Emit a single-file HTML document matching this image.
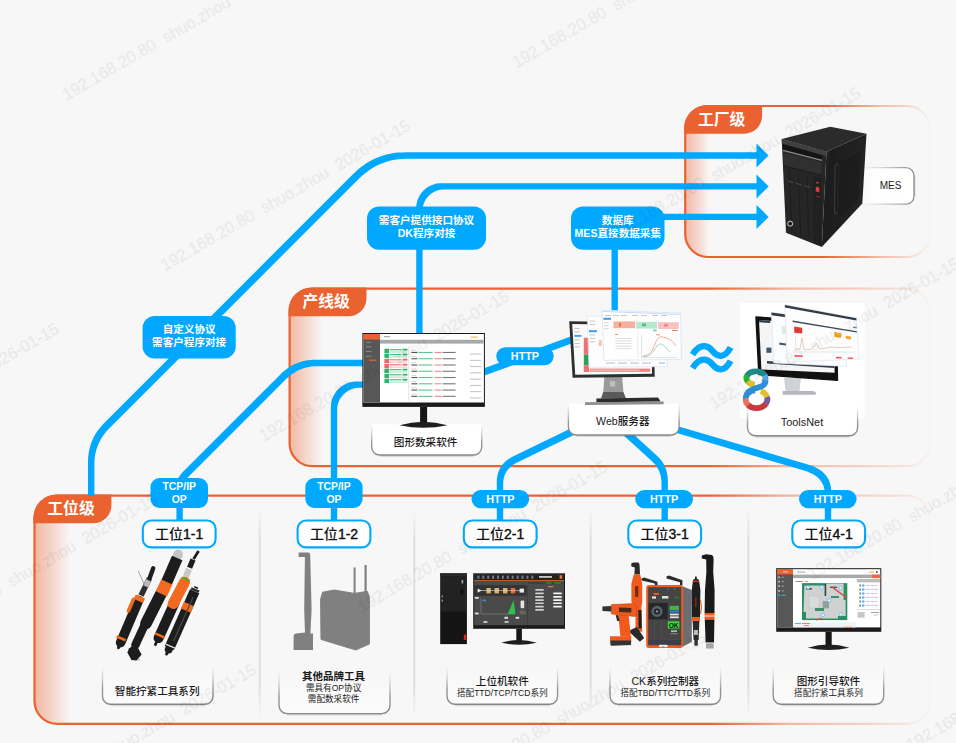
<!DOCTYPE html>
<html lang="zh-CN"><head><meta charset="utf-8"><title>系统架构</title>
<style>html,body{margin:0;padding:0;background:#f7f7f7;overflow:hidden}svg{display:block}text{font-family:"Liberation Sans", "Noto Sans CJK SC", sans-serif}</style>
</head><body>
<svg width="956" height="743" viewBox="0 0 956 743">
<defs>
<linearGradient id="sF" gradientUnits="userSpaceOnUse" x1="685.5" y1="0" x2="930" y2="0"><stop offset="0" stop-color="#eb6231"/><stop offset="0.558" stop-color="#eb6231"/><stop offset="0.787" stop-color="#eb6231" stop-opacity="0.42"/><stop offset="0.926" stop-color="#eb6231" stop-opacity="0.18"/><stop offset="1" stop-color="#eb6231" stop-opacity="0.025"/></linearGradient>
<linearGradient id="fF" gradientUnits="userSpaceOnUse" x1="685.5" y1="0" x2="709.5" y2="0"><stop offset="0" stop-color="#eb6231" stop-opacity="0.42"/><stop offset="0.35" stop-color="#eb6231" stop-opacity="0.28"/><stop offset="1" stop-color="#eb6231" stop-opacity="0"/></linearGradient>
<linearGradient id="sL" gradientUnits="userSpaceOnUse" x1="289.6" y1="0" x2="930" y2="0"><stop offset="0" stop-color="#eb6231"/><stop offset="0.653" stop-color="#eb6231"/><stop offset="0.781" stop-color="#eb6231" stop-opacity="0.42"/><stop offset="0.938" stop-color="#eb6231" stop-opacity="0.18"/><stop offset="1" stop-color="#eb6231" stop-opacity="0.025"/></linearGradient>
<linearGradient id="fL" gradientUnits="userSpaceOnUse" x1="289.6" y1="0" x2="322.6" y2="0"><stop offset="0" stop-color="#eb6231" stop-opacity="0.42"/><stop offset="0.35" stop-color="#eb6231" stop-opacity="0.28"/><stop offset="1" stop-color="#eb6231" stop-opacity="0"/></linearGradient>
<linearGradient id="sW" gradientUnits="userSpaceOnUse" x1="34.5" y1="0" x2="930" y2="0"><stop offset="0" stop-color="#eb6231"/><stop offset="0.752" stop-color="#eb6231"/><stop offset="0.844" stop-color="#eb6231" stop-opacity="0.42"/><stop offset="0.955" stop-color="#eb6231" stop-opacity="0.18"/><stop offset="1" stop-color="#eb6231" stop-opacity="0.025"/></linearGradient>
<linearGradient id="fW" gradientUnits="userSpaceOnUse" x1="34.5" y1="0" x2="70.5" y2="0"><stop offset="0" stop-color="#eb6231" stop-opacity="0.42"/><stop offset="0.35" stop-color="#eb6231" stop-opacity="0.28"/><stop offset="1" stop-color="#eb6231" stop-opacity="0"/></linearGradient>
<linearGradient id="lbF" x1="0" y1="0" x2="0" y2="1"><stop offset="0" stop-color="#fff" stop-opacity="0"/><stop offset="0.25" stop-color="#fff" stop-opacity="0.9"/><stop offset="1" stop-color="#fff"/></linearGradient>
<linearGradient id="lbG" x1="0" y1="0" x2="0" y2="1"><stop offset="0" stop-color="#fff" stop-opacity="0"/><stop offset="0.5" stop-color="#fff" stop-opacity="0.3"/><stop offset="1" stop-color="#fff" stop-opacity="0.55"/></linearGradient>
<linearGradient id="lbS" x1="0" y1="0" x2="0" y2="1"><stop offset="0" stop-color="#8c8c8c" stop-opacity="0"/><stop offset="0.3" stop-color="#8c8c8c" stop-opacity="0.35"/><stop offset="0.6" stop-color="#8c8c8c" stop-opacity="0.9"/><stop offset="1" stop-color="#8a8a8a"/></linearGradient>
<linearGradient id="lbF2" x1="0" y1="0" x2="1" y2="0"><stop offset="0" stop-color="#fff" stop-opacity="0"/><stop offset="0.3" stop-color="#fff" stop-opacity="0.9"/><stop offset="1" stop-color="#fff"/></linearGradient>
<linearGradient id="lbS2" x1="0" y1="0" x2="1" y2="0"><stop offset="0" stop-color="#8c8c8c" stop-opacity="0"/><stop offset="0.4" stop-color="#8c8c8c" stop-opacity="0.3"/><stop offset="1" stop-color="#8c8c8c"/></linearGradient>
<linearGradient id="dv" x1="0" y1="0" x2="0" y2="1"><stop offset="0" stop-color="#c2c6c9" stop-opacity="0"/><stop offset="0.15" stop-color="#c2c6c9" stop-opacity="0.5"/><stop offset="0.85" stop-color="#c2c6c9" stop-opacity="0.5"/><stop offset="1" stop-color="#c2c6c9" stop-opacity="0"/></linearGradient>
<linearGradient id="pcS" x1="0" y1="0" x2="1" y2="0.3"><stop offset="0" stop-color="#2e2e2e"/><stop offset="0.25" stop-color="#1c1c1c"/><stop offset="1" stop-color="#242424"/></linearGradient>
</defs>
<rect width="956" height="743" fill="#f7f7f7"/>
<path d="M708.2,106 H907 A23,23 0 0 1 930,129 V234 A23,23 0 0 1 907,257 H708.2 A23,23 0 0 1 685.2,234 V129 A23,23 0 0 1 708.2,106 Z" fill="url(#fF)" stroke="url(#sF)" stroke-width="2.2"/>
<path d="M684.1,127.9 A23,23 0 0 1 707.1,104.9 H762.1 V115.7 A18,18 0 0 1 744.1,133.7 H684.1 Z" fill="#eb6231"/>
<text x="721.7" y="124.8" font-size="15.8" font-weight="700" fill="#fff" text-anchor="middle">工厂级</text>
<path d="M312.6,288.6 H907 A23,23 0 0 1 930,311.6 V443.2 A23,23 0 0 1 907,466.2 H312.6 A23,23 0 0 1 289.6,443.2 V311.6 A23,23 0 0 1 312.6,288.6 Z" fill="url(#fL)" stroke="url(#sL)" stroke-width="2.2"/>
<path d="M288.5,310.5 A23,23 0 0 1 311.5,287.5 H366.5 V298.3 A18,18 0 0 1 348.5,316.3 H288.5 Z" fill="#eb6231"/>
<text x="326.1" y="307.4" font-size="15.8" font-weight="700" fill="#fff" text-anchor="middle">产线级</text>
<path d="M57.5,495.6 H907 A23,23 0 0 1 930,518.6 V700.9 A23,23 0 0 1 907,723.9 H57.5 A23,23 0 0 1 34.5,700.9 V518.6 A23,23 0 0 1 57.5,495.6 Z" fill="url(#fW)" stroke="url(#sW)" stroke-width="2.2"/>
<path d="M33.4,517.5 A23,23 0 0 1 56.4,494.5 H111.4 V505.3 A18,18 0 0 1 93.4,523.3 H33.4 Z" fill="#eb6231"/>
<text x="71" y="514.4" font-size="15.8" font-weight="700" fill="#fff" text-anchor="middle">工位级</text>
<rect x="258.7" y="508" width="2" height="210" fill="url(#dv)"/>
<rect x="413.3" y="508" width="2" height="210" fill="url(#dv)"/>
<rect x="589.7" y="508" width="2" height="210" fill="url(#dv)"/>
<rect x="747.4" y="508" width="2" height="210" fill="url(#dv)"/>
<path d="M94.4,496.0 L94.4,463.2 L94.5,460.3 L94.8,457.4 L95.2,454.6 L95.8,451.9 L96.5,449.2 L97.4,446.7 L98.4,444.2 L99.5,441.7 L100.8,439.3 L102.2,437.0 L103.8,434.7 L105.5,432.5 L107.4,430.3 L109.4,428.2 L358.6,179.1 L361.5,176.3 L364.5,173.7 L367.5,171.4 L370.6,169.2 L373.8,167.3 L377.0,165.6 L380.4,164.0 L383.8,162.7 L387.3,161.5 L390.8,160.5 L394.5,159.8 L398.2,159.2 L402.1,158.9 L406.0,158.7 L760.0,158.7 L760.0,152.3 L406.0,152.3 L401.7,152.4 L397.5,152.6 L393.4,153.1 L389.3,153.9 L385.4,154.8 L381.5,156.0 L377.6,157.4 L373.9,159.1 L370.2,161.0 L366.7,163.1 L363.2,165.4 L359.8,168.0 L356.6,170.8 L353.4,173.7 L104.2,423.0 L101.9,425.4 L99.8,427.9 L97.9,430.4 L96.1,433.1 L94.5,435.8 L93.1,438.6 L91.8,441.4 L90.7,444.4 L89.9,447.4 L89.1,450.4 L88.6,453.5 L88.2,456.7 L88.0,459.9 L88.0,463.2 L88.0,496.0 Z" fill="#00a8ff"/>
<path d="M422.6,334.0 L422.6,209.5 L422.8,207.2 L423.3,205.0 L424.0,203.0 L424.9,201.0 L426.0,199.1 L427.3,197.4 L428.8,195.8 L430.4,194.3 L432.1,193.0 L434.0,191.9 L436.0,191.0 L438.0,190.3 L440.2,189.8 L442.5,189.6 L760.0,189.6 L760.0,183.2 L442.3,183.2 L439.5,183.3 L436.5,183.6 L433.6,184.4 L430.9,185.4 L428.2,186.8 L425.8,188.5 L423.5,190.5 L421.5,192.8 L419.8,195.2 L418.4,197.9 L417.4,200.6 L416.6,203.5 L416.3,206.5 L416.2,209.3 L416.2,334.0 Z" fill="#00a8ff"/>
<path d="M660,216.9 H760" fill="none" stroke="#00a8ff" stroke-width="6.4" stroke-linejoin="round"/>
<path d="M614.7,248 V311" fill="none" stroke="#00a8ff" stroke-width="6.4" stroke-linejoin="round"/>
<path d="M182.8,496.0 L182.8,488.0 L182.9,487.1 L183.0,486.2 L183.2,485.4 L183.4,484.6 L183.7,483.8 L184.0,483.0 L184.4,482.2 L184.8,481.5 L185.2,480.7 L185.7,480.0 L186.3,479.2 L186.9,478.5 L187.5,477.8 L188.2,477.0 L285.6,379.6 L287.5,377.8 L289.4,376.1 L291.4,374.6 L293.4,373.2 L295.4,371.9 L297.5,370.8 L299.6,369.8 L301.8,368.9 L304.0,368.1 L306.3,367.5 L308.6,367.0 L311.0,366.6 L313.5,366.3 L316.0,366.2 L364.0,366.2 L364.0,359.8 L316.0,359.8 L313.1,359.8 L310.3,360.0 L307.5,360.3 L304.8,360.8 L302.1,361.5 L299.5,362.3 L296.9,363.2 L294.3,364.3 L291.8,365.6 L289.4,367.1 L287.1,368.7 L284.8,370.4 L282.5,372.3 L280.4,374.4 L183.0,471.8 L182.0,472.8 L181.2,473.8 L180.4,474.9 L179.6,475.9 L178.9,477.0 L178.4,478.2 L177.8,479.4 L177.4,480.6 L177.0,481.8 L176.8,483.0 L176.6,484.2 L176.4,485.5 L176.4,486.7 L176.4,488.0 L176.4,496.0 Z" fill="#00a8ff"/>
<path d="M337.2,496.0 L337.2,408.7 L337.4,406.3 L337.9,404.0 L338.7,401.8 L339.6,399.7 L340.8,397.8 L342.1,395.9 L343.6,394.2 L345.3,392.7 L347.2,391.4 L349.1,390.2 L351.2,389.3 L353.4,388.5 L355.7,388.0 L358.1,387.8 L364.0,387.8 L364.0,381.4 L357.9,381.4 L354.9,381.5 L351.9,381.9 L348.9,382.6 L346.0,383.7 L343.3,385.2 L340.7,387.0 L338.4,389.0 L336.4,391.3 L334.6,393.9 L333.1,396.6 L332.0,399.5 L331.3,402.5 L330.9,405.5 L330.8,408.5 L330.8,496.0 Z" fill="#00a8ff"/>
<path d="M485.2,375.3 L572.2,343.3 L569.8,336.7 L482.8,368.7 Z" fill="#00a8ff"/>
<path d="M580.4,423.8 L513.4,456.3 L511.1,457.5 L509.0,458.8 L507.0,460.2 L505.1,461.8 L503.5,463.4 L502.0,465.2 L500.7,467.2 L499.6,469.2 L498.6,471.3 L497.9,473.5 L497.4,475.8 L497.0,478.1 L496.8,480.5 L496.8,482.9 L496.8,522.0 L503.2,522.0 L503.2,483.1 L503.3,481.0 L503.6,479.1 L504.0,477.3 L504.5,475.6 L505.2,474.0 L506.0,472.5 L506.8,471.1 L507.8,469.7 L508.9,468.4 L510.2,467.2 L511.5,466.0 L513.1,464.8 L514.8,463.8 L516.6,462.7 L583.6,430.2 Z" fill="#00a8ff"/>
<path d="M617.5,429.7 L652.5,461.7 L653.7,462.9 L654.8,464.1 L655.8,465.3 L656.7,466.6 L657.5,468.0 L658.3,469.4 L659.0,470.8 L659.6,472.4 L660.1,473.9 L660.6,475.6 L660.9,477.3 L661.2,479.2 L661.4,481.0 L661.5,483.0 L661.5,522.0 L667.9,522.0 L667.9,483.0 L667.9,480.7 L667.8,478.5 L667.6,476.3 L667.2,474.2 L666.8,472.2 L666.2,470.1 L665.6,468.2 L664.8,466.3 L663.9,464.4 L662.8,462.6 L661.7,460.9 L660.4,459.3 L659.0,457.8 L657.5,456.3 L622.5,424.3 Z" fill="#00a8ff"/>
<path d="M669.0,430.8 L805.0,470.8 L807.8,471.8 L810.4,472.9 L812.7,474.1 L814.8,475.3 L816.6,476.6 L818.3,478.1 L819.7,479.5 L820.9,481.1 L822.0,482.7 L822.9,484.5 L823.7,486.4 L824.2,488.4 L824.6,490.6 L824.8,493.1 L824.8,522.0 L831.2,522.0 L831.2,492.9 L831.2,490.1 L830.9,487.2 L830.3,484.5 L829.5,481.8 L828.4,479.3 L827.0,476.9 L825.3,474.7 L823.4,472.7 L821.2,470.8 L818.8,469.2 L816.1,467.7 L813.3,466.3 L810.2,465.2 L807.0,464.2 L671.0,424.2 Z" fill="#00a8ff"/>
<path d="M179.6,500 V522" fill="none" stroke="#00a8ff" stroke-width="6.4" stroke-linejoin="round"/>
<path d="M334,500 V522" fill="none" stroke="#00a8ff" stroke-width="6.4" stroke-linejoin="round"/>
<path d="M756.5,143.5 L768.6,155.5 L756.5,167.5 Z" fill="#00a8ff"/>
<path d="M756.5,174.4 L768.6,186.4 L756.5,198.4 Z" fill="#00a8ff"/>
<path d="M756.5,204.9 L768.6,216.9 L756.5,228.9 Z" fill="#00a8ff"/>
<path d="M692.6,354.6 Q698,345.8 704.5,346.2 Q709,346.6 712.5,351 Q716.5,356 721,355.8 Q726.5,355.4 730.6,347.4" fill="none" stroke="#00a8ff" stroke-width="6.3"/>
<path d="M692.6,368.1 Q698,359.3 704.5,359.7 Q709,360.1 712.5,364.5 Q716.5,369.5 721,369.3 Q726.5,368.9 730.6,360.9" fill="none" stroke="#00a8ff" stroke-width="6.3"/>
<rect x="142.6" y="316" width="93.1" height="42.6" rx="12" fill="#00a8ff"/>
<text x="189.15" y="333.466" font-size="10.6" font-weight="700" fill="#fff" text-anchor="middle">自定义协议</text>
<text x="189.15" y="346.366" font-size="10.6" font-weight="700" fill="#fff" text-anchor="middle">需客户程序对接</text>
<rect x="367" y="206.6" width="119" height="43.2" rx="12" fill="#00a8ff"/>
<text x="426.5" y="224.366" font-size="10.6" font-weight="700" fill="#fff" text-anchor="middle">需客户提供接口协议</text>
<text x="426.5" y="237.266" font-size="10.6" font-weight="700" fill="#fff" text-anchor="middle">DK程序对接</text>
<rect x="571" y="206.6" width="93.5" height="43.2" rx="12" fill="#00a8ff"/>
<text x="617.75" y="224.366" font-size="10.6" font-weight="700" fill="#fff" text-anchor="middle">数据库</text>
<text x="617.75" y="237.266" font-size="10.6" font-weight="700" fill="#fff" text-anchor="middle">MES直接数据采集</text>
<rect x="150.5" y="478" width="57.5" height="30" rx="9" fill="#00a8ff"/>
<text x="179.25" y="490.244" font-size="10.4" font-weight="700" fill="#fff" text-anchor="middle">TCP/IP</text>
<text x="179.25" y="503.244" font-size="10.4" font-weight="700" fill="#fff" text-anchor="middle">OP</text>
<rect x="305.3" y="478" width="57.3" height="30" rx="9" fill="#00a8ff"/>
<text x="333.95" y="490.244" font-size="10.4" font-weight="700" fill="#fff" text-anchor="middle">TCP/IP</text>
<text x="333.95" y="503.244" font-size="10.4" font-weight="700" fill="#fff" text-anchor="middle">OP</text>
<rect x="496.3" y="347.2" width="57.3" height="18.1" rx="9.1" fill="#00a8ff"/>
<text x="524.95" y="360.138" font-size="10.8" font-weight="700" fill="#fff" text-anchor="middle">HTTP</text>
<rect x="471.5" y="490" width="57.7" height="18.2" rx="9.1" fill="#00a8ff"/>
<text x="500.35" y="502.988" font-size="10.8" font-weight="700" fill="#fff" text-anchor="middle">HTTP</text>
<rect x="635.2" y="490" width="57.8" height="18.2" rx="9.1" fill="#00a8ff"/>
<text x="664.1" y="502.988" font-size="10.8" font-weight="700" fill="#fff" text-anchor="middle">HTTP</text>
<rect x="799" y="490" width="57.6" height="18.2" rx="9.1" fill="#00a8ff"/>
<text x="827.8" y="502.988" font-size="10.8" font-weight="700" fill="#fff" text-anchor="middle">HTTP</text>
<rect x="142.8" y="520.5" width="72.8" height="26.9" rx="8.5" fill="#fff" stroke="#00a8ff" stroke-width="2.1"/>
<text x="179.2" y="538.7" font-size="14" font-weight="500" fill="#111" text-anchor="middle">工位<tspan font-weight="400" stroke="#111" stroke-width="0.4">1-1</tspan></text>
<rect x="297.6" y="520.5" width="72.8" height="26.9" rx="8.5" fill="#fff" stroke="#00a8ff" stroke-width="2.1"/>
<text x="334" y="538.7" font-size="14" font-weight="500" fill="#111" text-anchor="middle">工位<tspan font-weight="400" stroke="#111" stroke-width="0.4">1-2</tspan></text>
<rect x="463.8" y="520.5" width="72.8" height="26.9" rx="8.5" fill="#fff" stroke="#00a8ff" stroke-width="2.1"/>
<text x="500.2" y="538.7" font-size="14" font-weight="500" fill="#111" text-anchor="middle">工位<tspan font-weight="400" stroke="#111" stroke-width="0.4">2-1</tspan></text>
<rect x="628.3" y="520.5" width="72.8" height="26.9" rx="8.5" fill="#fff" stroke="#00a8ff" stroke-width="2.1"/>
<text x="664.7" y="538.7" font-size="14" font-weight="500" fill="#111" text-anchor="middle">工位<tspan font-weight="400" stroke="#111" stroke-width="0.4">3-1</tspan></text>
<rect x="792.3" y="520.5" width="72.8" height="26.9" rx="8.5" fill="#fff" stroke="#00a8ff" stroke-width="2.1"/>
<text x="828.7" y="538.7" font-size="14" font-weight="500" fill="#111" text-anchor="middle">工位<tspan font-weight="400" stroke="#111" stroke-width="0.4">4-1</tspan></text>
<path d="M102.5,666.3 V696.3 A8,8 0 0 0 110.5,704.3 H205 A8,8 0 0 0 213,696.3 V666.3" fill="url(#lbG)" stroke="url(#lbS)" stroke-width="1.4"/>
<path d="M110.5,705.5 H205" stroke="#000" stroke-opacity="0.12" stroke-width="1.6" fill="none"/>
<text x="157.2" y="694.5" font-size="10.6" font-weight="500" fill="#1a1a1a" text-anchor="middle">智能拧紧工具系列</text>
<path d="M279,671.6 V705.6 A8,8 0 0 0 287,713.6 H382 A8,8 0 0 0 390,705.6 V671.6" fill="url(#lbG)" stroke="url(#lbS)" stroke-width="1.4"/>
<path d="M287,714.8 H382" stroke="#000" stroke-opacity="0.12" stroke-width="1.6" fill="none"/>
<text x="333.6" y="680.2" font-size="10.5" font-weight="700" fill="#1a1a1a" text-anchor="middle">其他品牌工具</text>
<text x="333.6" y="690.9" font-size="8.6" font-weight="400" fill="#1a1a1a" text-anchor="middle">需具有OP协议</text>
<text x="333.6" y="701.6" font-size="8.6" font-weight="400" fill="#1a1a1a" text-anchor="middle">需配数采软件</text>
<path d="M447,666.3 V696.3 A8,8 0 0 0 455,704.3 H549.6 A8,8 0 0 0 557.6,696.3 V666.3" fill="url(#lbG)" stroke="url(#lbS)" stroke-width="1.4"/>
<path d="M455,705.5 H549.6" stroke="#000" stroke-opacity="0.12" stroke-width="1.6" fill="none"/>
<text x="502.3" y="684.8" font-size="10.6" font-weight="500" fill="#1a1a1a" text-anchor="middle">上位机软件</text>
<text x="502.3" y="695.7" font-size="8.6" font-weight="400" fill="#1a1a1a" text-anchor="middle">搭配TTD/TCP/TCD系列</text>
<path d="M610,666.3 V696.3 A8,8 0 0 0 618,704.3 H712.6 A8,8 0 0 0 720.6,696.3 V666.3" fill="url(#lbG)" stroke="url(#lbS)" stroke-width="1.4"/>
<path d="M618,705.5 H712.6" stroke="#000" stroke-opacity="0.12" stroke-width="1.6" fill="none"/>
<text x="665.3" y="684.8" font-size="10.6" font-weight="500" fill="#1a1a1a" text-anchor="middle">CK系列控制器</text>
<text x="665.3" y="695.7" font-size="8.6" font-weight="400" fill="#1a1a1a" text-anchor="middle">搭配TBD/TTC/TTD系列</text>
<path d="M773.2,666.3 V696.3 A8,8 0 0 0 781.2,704.3 H875.7 A8,8 0 0 0 883.7,696.3 V666.3" fill="url(#lbG)" stroke="url(#lbS)" stroke-width="1.4"/>
<path d="M781.2,705.5 H875.7" stroke="#000" stroke-opacity="0.12" stroke-width="1.6" fill="none"/>
<text x="828.45" y="684.8" font-size="10.6" font-weight="500" fill="#1a1a1a" text-anchor="middle">图形引导软件</text>
<text x="828.45" y="695.7" font-size="8.6" font-weight="400" fill="#1a1a1a" text-anchor="middle">搭配拧紧工具系列</text>
<path d="M858,167.6 H906 A8,8 0 0 1 914,175.6 V196.2 A8,8 0 0 1 906,204.2 H858" fill="url(#lbF2)" stroke="url(#lbS2)" stroke-width="1.3"/>
<path d="M914.9,176 V196" stroke="#000" stroke-opacity="0.1" stroke-width="1.4" fill="none"/>
<text x="890.6" y="189.4" font-size="10" fill="#1a1a1a" text-anchor="middle">MES</text>
<g>
<path d="M781.7,139.1 L830.3,126.7 L866.5,133.8 L826.5,151.8 Z" fill="#2b2b2b"/>
<path d="M826.5,151.8 L866.5,133.8 L862.3,203.6 L821.8,246.9 Z" fill="url(#pcS)"/>
<path d="M781.7,139.1 L826.5,151.8 L821.8,246.9 L786,232.8 Z" fill="#262626"/>
<path d="M781.7,139.1 L826.5,151.8 L826.2,156 L781.9,143.4 Z" fill="#404040"/>
<path d="M782.6,144 L822.4,155.4 L822,160.6 L783,150.6 Z" fill="#141414"/>
<path d="M783,150.4 L822,160.4" stroke="#8c8c8c" stroke-width="1.3" fill="none"/>
<path d="M783.2,152.6 L821.8,162.6 L821.4,174.6 L783.8,165 Z" fill="#303030"/>
<path d="M783.8,166 L821.3,175.6" stroke="#1a1a1a" stroke-width="0.8" fill="none"/>
<path d="M789,171.5 L791.8,230.32" stroke="#1b1b1b" stroke-width="0.8" fill="none"/>
<path d="M798.4,173.85 L800.6,233.84" stroke="#1b1b1b" stroke-width="0.8" fill="none"/>
<path d="M807,176 L808.6,237.04" stroke="#1b1b1b" stroke-width="0.8" fill="none"/>
<path d="M813,176 L821.4,178 L821.6,246 L813.6,243.2 Z" fill="#202020"/>
<path d="M834.6,166 Q837,160 838.6,166 L837,212 Q834.6,218 834,212 Z" fill="#3a3a3a"/>
<path d="M835.8,166 Q837.4,163 838.2,167 L836.8,211 Q835.6,214 835.2,211 Z" fill="#191919"/>
<path d="M840,162 L861,151.6 L858,199 L838.6,219 Z" fill="#1a1a1a" opacity="0.55"/>
<path d="M816,181.8 L818.8,182.6 L818.6,183.8 L815.8,183 Z" fill="#e23a3a"/>
<path d="M815.8,186.8 L819.4,187.6 L819.2,192.2 L815.8,191.4 Z" fill="#e23a3a"/>
<path d="M816.4,195.8 L820,196.8 L820,197.8 L816.4,196.8 Z" fill="#c02a2a"/>
<circle cx="790.2" cy="223.7" r="2.5" fill="#1a1a1a" stroke="#e0e0e0" stroke-width="0.9"/>
<path d="M787.6,181 l5.4,1.5" stroke="#555" stroke-width="0.9"/>
<path d="M796.2,183.4 l5.4,1.5" stroke="#555" stroke-width="0.9"/>
<path d="M804.8,185.8 l5.4,1.5" stroke="#555" stroke-width="0.9"/>
</g>
<path d="M371.7,424.3 V447 A8,8 0 0 0 379.7,455 H473.7 A8,8 0 0 0 481.7,447 V424.3" fill="#fff" stroke="url(#lbS)" stroke-width="1.4"/>
<path d="M379.7,456.2 H473.7" stroke="#000" stroke-opacity="0.12" stroke-width="1.6" fill="none"/>
<text x="425.6" y="446.3" font-size="10.6" font-weight="500" fill="#1a1a1a" text-anchor="middle">图形数采软件</text>
<rect x="362.4" y="333" width="122.5" height="73.9" fill="#1b1b1b"/>
<rect x="363.4" y="334" width="120.5" height="68.5" fill="#fff"/>
<rect x="420.1" y="406.9" width="7" height="16.1" fill="#161616"/>
<path d="M399.4,425.312 Q423.45,418.259 447.5,425.312 Q423.45,430.419 399.4,425.312 Z" fill="#1e1e1e"/>
<rect x="363.4" y="334" width="16.6" height="68.4" fill="#575757"/>
<rect x="363.4" y="334" width="16.6" height="5.6" fill="#eb6231"/>
<rect x="380" y="339.8" width="103.6" height="3.8" fill="#a9a9a9"/>
<rect x="408.4" y="346" width="0.8" height="55" fill="#ddd"/>
<rect x="369" y="359.6" width="7" height="1.2" fill="#eb6231"/>
<rect x="366" y="341.8" width="5.4" height="1" fill="#8a8a8a"/>
<rect x="366" y="346.4" width="5.4" height="1" fill="#8a8a8a"/>
<rect x="366" y="351" width="5.4" height="1" fill="#8a8a8a"/>
<rect x="366" y="355.8" width="5.4" height="1" fill="#8a8a8a"/>
<rect x="384.4" y="348.7" width="4.6" height="4.3" fill="#2fb36a"/>
<rect x="389.6" y="349" width="12" height="1.3" fill="#2fb36a" opacity="0.8"/>
<rect x="389.6" y="351.5" width="17.6" height="1" fill="#2fb36a" opacity="0.45"/>
<rect x="402.6" y="348.7" width="4.8" height="1.8" fill="#2fb36a"/>
<rect x="384.4" y="353.6" width="4.6" height="4.3" fill="#2fb36a"/>
<rect x="389.6" y="353.9" width="12" height="1.3" fill="#2fb36a" opacity="0.8"/>
<rect x="389.6" y="356.4" width="17.6" height="1" fill="#2fb36a" opacity="0.45"/>
<rect x="402.6" y="353.6" width="4.8" height="1.8" fill="#2fb36a"/>
<rect x="384.4" y="358.8" width="4.6" height="4.3" fill="#ef6b6b"/>
<rect x="389.6" y="359.1" width="12" height="1.3" fill="#ef6b6b" opacity="0.8"/>
<rect x="389.6" y="361.6" width="17.6" height="1" fill="#ef6b6b" opacity="0.45"/>
<rect x="402.6" y="358.8" width="4.8" height="1.8" fill="#ef6b6b"/>
<rect x="384.4" y="363.8" width="4.6" height="4.3" fill="#ef6b6b"/>
<rect x="389.6" y="364.1" width="12" height="1.3" fill="#ef6b6b" opacity="0.8"/>
<rect x="389.6" y="366.6" width="17.6" height="1" fill="#ef6b6b" opacity="0.45"/>
<rect x="402.6" y="363.8" width="4.8" height="1.8" fill="#ef6b6b"/>
<rect x="384.4" y="368.7" width="4.6" height="4.3" fill="#2fb36a"/>
<rect x="389.6" y="369" width="12" height="1.3" fill="#2fb36a" opacity="0.8"/>
<rect x="389.6" y="371.5" width="17.6" height="1" fill="#2fb36a" opacity="0.45"/>
<rect x="402.6" y="368.7" width="4.8" height="1.8" fill="#2fb36a"/>
<rect x="384.4" y="373.8" width="4.6" height="4.3" fill="#2fb36a"/>
<rect x="389.6" y="374.1" width="12" height="1.3" fill="#2fb36a" opacity="0.8"/>
<rect x="389.6" y="376.6" width="17.6" height="1" fill="#2fb36a" opacity="0.45"/>
<rect x="402.6" y="373.8" width="4.8" height="1.8" fill="#2fb36a"/>
<rect x="384.4" y="378.8" width="4.6" height="4.3" fill="#2fb36a"/>
<rect x="389.6" y="379.1" width="12" height="1.3" fill="#2fb36a" opacity="0.8"/>
<rect x="389.6" y="381.6" width="17.6" height="1" fill="#2fb36a" opacity="0.45"/>
<rect x="402.6" y="378.8" width="4.8" height="1.8" fill="#2fb36a"/>
<rect x="411.4" y="351.9" width="6" height="1.1" fill="#555"/>
<rect x="418.6" y="351.9" width="14" height="1.1" fill="#5bc48e"/>
<rect x="434.6" y="351.9" width="7" height="1.1" fill="#f08a8a"/>
<rect x="442.6" y="351.9" width="13" height="1.1" fill="#777"/>
<rect x="470" y="353.6" width="11" height="0.9" fill="#bbb"/>
<rect x="411.4" y="349.8" width="5" height="0.8" fill="#ccc"/>
<rect x="411.4" y="358.17" width="6" height="1.1" fill="#555"/>
<rect x="418.6" y="358.17" width="14" height="1.1" fill="#5bc48e"/>
<rect x="434.6" y="358.17" width="7" height="1.1" fill="#f08a8a"/>
<rect x="442.6" y="358.17" width="13" height="1.1" fill="#777"/>
<rect x="470" y="359.87" width="11" height="0.9" fill="#bbb"/>
<rect x="411.4" y="356.07" width="5" height="0.8" fill="#ccc"/>
<rect x="411.4" y="364.44" width="6" height="1.1" fill="#555"/>
<rect x="418.6" y="364.44" width="14" height="1.1" fill="#5bc48e"/>
<rect x="434.6" y="364.44" width="7" height="1.1" fill="#f08a8a"/>
<rect x="442.6" y="364.44" width="13" height="1.1" fill="#777"/>
<rect x="470" y="366.14" width="11" height="0.9" fill="#bbb"/>
<rect x="411.4" y="362.34" width="5" height="0.8" fill="#ccc"/>
<rect x="411.4" y="370.71" width="6" height="1.1" fill="#555"/>
<rect x="418.6" y="370.71" width="14" height="1.1" fill="#5bc48e"/>
<rect x="434.6" y="370.71" width="7" height="1.1" fill="#f08a8a"/>
<rect x="442.6" y="370.71" width="13" height="1.1" fill="#777"/>
<rect x="470" y="372.41" width="11" height="0.9" fill="#bbb"/>
<rect x="411.4" y="368.61" width="5" height="0.8" fill="#ccc"/>
<rect x="411.4" y="376.98" width="6" height="1.1" fill="#555"/>
<rect x="418.6" y="376.98" width="14" height="1.1" fill="#5bc48e"/>
<rect x="434.6" y="376.98" width="7" height="1.1" fill="#f08a8a"/>
<rect x="442.6" y="376.98" width="13" height="1.1" fill="#777"/>
<rect x="470" y="378.68" width="11" height="0.9" fill="#bbb"/>
<rect x="411.4" y="374.88" width="5" height="0.8" fill="#ccc"/>
<rect x="411.4" y="383.25" width="6" height="1.1" fill="#555"/>
<rect x="418.6" y="383.25" width="14" height="1.1" fill="#5bc48e"/>
<rect x="434.6" y="383.25" width="7" height="1.1" fill="#f08a8a"/>
<rect x="442.6" y="383.25" width="13" height="1.1" fill="#777"/>
<rect x="470" y="384.95" width="11" height="0.9" fill="#bbb"/>
<rect x="411.4" y="381.15" width="5" height="0.8" fill="#ccc"/>
<rect x="411.4" y="389.52" width="6" height="1.1" fill="#555"/>
<rect x="418.6" y="389.52" width="14" height="1.1" fill="#5bc48e"/>
<rect x="434.6" y="389.52" width="7" height="1.1" fill="#f08a8a"/>
<rect x="442.6" y="389.52" width="13" height="1.1" fill="#777"/>
<rect x="470" y="391.22" width="11" height="0.9" fill="#bbb"/>
<rect x="411.4" y="387.42" width="5" height="0.8" fill="#ccc"/>
<rect x="411.4" y="395.79" width="6" height="1.1" fill="#555"/>
<rect x="418.6" y="395.79" width="14" height="1.1" fill="#5bc48e"/>
<rect x="434.6" y="395.79" width="7" height="1.1" fill="#f08a8a"/>
<rect x="442.6" y="395.79" width="13" height="1.1" fill="#777"/>
<rect x="470" y="397.49" width="11" height="0.9" fill="#bbb"/>
<rect x="411.4" y="393.69" width="5" height="0.8" fill="#ccc"/>
<rect x="470.6" y="336.6" width="7" height="1" fill="#f0b429"/>
<rect x="384" y="336.2" width="6" height="1" fill="#999"/>
<path d="M568.4,403.4 V427 A8,8 0 0 0 576.4,435 H671.1 A8,8 0 0 0 679.1,427 V403.4" fill="#fff" stroke="url(#lbS)" stroke-width="1.4"/>
<path d="M576.4,436.2 H671.1" stroke="#000" stroke-opacity="0.12" stroke-width="1.6" fill="none"/>
<text x="622.8" y="424.8" font-size="10.6" font-weight="500" fill="#1a1a1a" text-anchor="middle">Web服务器</text>
<path d="M604.4,377 H622.2 L623.4,392 H603.2 Z" fill="#9a9a9a"/>
<path d="M603.2,392 H623.4 L626,398.6 H601 Z" fill="#5a5a5a"/>
<rect x="610" y="381" width="5.2" height="5.6" fill="#bdbdbd"/>
<path d="M596.4,398.4 L658,397.6 L660.6,401.6 L596.4,402.2 Z" fill="#2c2c2c"/>
<path d="M585,402.2 L663.6,401.4 L663.6,404.2 L585,405 Z" fill="#8e8e8e"/>
<path d="M569.2,321.2 L654,322.6 L654.7,376.8 L572.6,377.8 Z" fill="#2f2f2f"/>
<path d="M572.2,324 L651.4,325.2 L652,373.8 L575.2,374.8 Z" fill="#fafafa"/>
<rect x="574.4" y="335" width="7" height="1.8" fill="#3b9cf5"/>
<rect x="574.6" y="328" width="5" height="0.9" fill="#bbb"/>
<rect x="574.6" y="331.4" width="5" height="0.9" fill="#bbb"/>
<rect x="574.6" y="339.5" width="5" height="0.9" fill="#bbb"/>
<rect x="574.6" y="343" width="5" height="0.9" fill="#bbb"/>
<rect x="574.6" y="346.4" width="5" height="0.9" fill="#bbb"/>
<rect x="583.8" y="337.8" width="5.2" height="17" fill="#ee7272"/>
<rect x="583.8" y="354.8" width="5.2" height="10.4" fill="#27a35a"/>
<rect x="583.8" y="365.2" width="5.2" height="6.8" fill="#ee7272"/>
<rect x="589.6" y="368.6" width="60.6" height="3.2" fill="#f37f7f"/>
<rect x="589.6" y="369.6" width="50" height="1" fill="#fff" opacity="0.6"/>
<path d="M587.4,316 L667.3,318.4 L667.3,366.6 L589,367.4 Z" fill="#fdfdfd" stroke="#dde6f1" stroke-width="0.7"/>
<rect x="589" y="330.2" width="8" height="2" fill="#3b9cf5"/>
<rect x="589.6" y="320.6" width="5.6" height="0.9" fill="#c4c4c4"/>
<rect x="589.6" y="324" width="5.6" height="0.9" fill="#c4c4c4"/>
<rect x="589.6" y="334.6" width="5.6" height="0.9" fill="#c4c4c4"/>
<rect x="589.6" y="338" width="5.6" height="0.9" fill="#c4c4c4"/>
<rect x="589.6" y="341.4" width="5.6" height="0.9" fill="#c4c4c4"/>
<rect x="598.8" y="340" width="3" height="6" fill="#f7c6b0"/>
<rect x="606" y="362.6" width="9" height="0.9" fill="#b5b5b5"/>
<rect x="618" y="362.6" width="9" height="0.9" fill="#b5b5b5"/>
<rect x="630" y="362.6" width="9" height="0.9" fill="#b5b5b5"/>
<rect x="642" y="362.6" width="9" height="0.9" fill="#b5b5b5"/>
<rect x="659" y="362.4" width="6" height="1.2" fill="#9cc6f5"/>
<path d="M601.9,310 L680.6,313.2 L681.4,359.4 L604,360.4 Z" fill="#fefefe" stroke="#d6e3f3" stroke-width="0.8"/>
<path d="M602.4,311.4 L680.4,314.4" stroke="#c4dbf5" stroke-width="1" fill="none"/>
<rect x="603.4" y="317.8" width="7.6" height="2" fill="#3b9cf5"/>
<rect x="604" y="322.4" width="4.6" height="0.8" fill="#c8c8c8"/>
<rect x="604" y="325.4" width="4.6" height="0.8" fill="#c8c8c8"/>
<rect x="604" y="328.4" width="4.6" height="0.8" fill="#c8c8c8"/>
<rect x="605" y="315" width="6" height="0.8" fill="#b9b9b9"/>
<rect x="613" y="315" width="6" height="0.8" fill="#b9b9b9"/>
<rect x="621" y="315" width="6" height="0.8" fill="#b9b9b9"/>
<rect x="632" y="315" width="6" height="0.8" fill="#b9b9b9"/>
<rect x="641" y="315" width="6" height="0.8" fill="#b9b9b9"/>
<rect x="652" y="315" width="6" height="0.8" fill="#b9b9b9"/>
<rect x="661" y="315" width="6" height="0.8" fill="#b9b9b9"/>
<rect x="613.4" y="321.4" width="21.8" height="6.8" fill="#f4b19c"/>
<rect x="636.2" y="321.8" width="20.8" height="6.8" fill="#b9e6d0"/>
<rect x="658" y="322.2" width="20.8" height="6.8" fill="#f9c1c1"/>
<rect x="619" y="323" width="2" height="3.6" fill="#e8733f"/><rect x="642" y="323.6" width="4" height="2.6" fill="#4dbb86"/><rect x="664" y="324" width="4" height="2.6" fill="#f08a8a"/>
<rect x="653" y="329.6" width="3.6" height="1.6" fill="#5ed0b0"/>
<rect x="672" y="330" width="6" height="1" fill="#f08a5a"/>
<rect x="615" y="334" width="3" height="0.9" fill="#f08a5a"/><rect x="656" y="334.4" width="4" height="0.9" fill="#f08a5a"/>
<rect x="637.6" y="333" width="0.6" height="25" fill="#ddd"/>
<rect x="615.4" y="338" width="16" height="0.7" fill="#d2d2d2"/>
<rect x="615.4" y="340.6" width="16" height="0.7" fill="#d2d2d2"/>
<rect x="615.4" y="343.2" width="16" height="0.7" fill="#d2d2d2"/>
<rect x="615.4" y="345.8" width="16" height="0.7" fill="#d2d2d2"/>
<rect x="615.4" y="348.4" width="16" height="0.7" fill="#d2d2d2"/>
<path d="M643,356 C650,355 652,352 655,344 S660,336 666,338 S673,342 676,346" fill="none" stroke="#f19a7a" stroke-width="0.8"/>
<path d="M643,357 C649,356.4 652,354 655,349 S659,343 663,345 S668,351 670,352.4" fill="none" stroke="#7fd3b5" stroke-width="0.8"/>
<path d="M641.6,335 V357.6 H677" fill="none" stroke="#ccc" stroke-width="0.6"/>
<rect x="739.8" y="302.8" width="124.7" height="115.6" fill="#fff"/>
<path d="M747.5,405.8 V427.8 A8,8 0 0 0 755.5,435.8 H849.6 A8,8 0 0 0 857.6,427.8 V405.8" fill="#fff" stroke="url(#lbS)" stroke-width="1.4"/>
<path d="M755.5,437 H849.6" stroke="#000" stroke-opacity="0.12" stroke-width="1.6" fill="none"/>
<text x="802" y="425.8" font-size="10.9" font-weight="400" fill="#1a1a1a" text-anchor="middle">ToolsNet</text>
<path d="M784,378 H801 L799.4,391 H785.6 Z" fill="#cfd2d6"/>
<path d="M782.6,391 H812 Q816,391.4 816,393.4 L815.6,394.8 H782.6 Z" fill="#b4b8bd"/>
<path d="M756,317 L836.6,322.4 L837.4,380.2 L758.9,374.5 Z" fill="#111" stroke="#111" stroke-width="1.5" stroke-linejoin="round"/>
<path d="M759,320 L834,325 L834.6,372.8 L761.4,369.4 Z" fill="#f3f5f7"/>
<path d="M759,320 L770,320.8 L770.4,323 L759.2,322.2 Z" fill="#2e3a44"/>
<rect x="766.4" y="347.6" width="5" height="5.2" fill="#44586a"/>
<path d="M767,361 L834.4,365.4 L834.5,368 L767,363.4 Z" fill="#2e3a44"/>
<path d="M771.3,312.3 L845.8,322.6 L846.4,366.4 L773.6,363 Z" fill="#fbfcfd" stroke="#dfe3e8" stroke-width="0.7"/>
<path d="M771.4,312.4 L788,314.7 L788.2,317.4 L771.6,315.2 Z" fill="#2e3a44"/>
<path d="M779.4,342.6 L786,343.4 L786,345.6 L779.4,344.8 Z" fill="#44586a"/>
<rect x="782" y="326" width="4" height="8" fill="#d8ecdf"/>
<path d="M784.7,304.7 L856.3,318 L859.1,359.1 L787.5,362 Z" fill="#fdfdfe" stroke="#e1e4e8" stroke-width="0.7"/>
<path d="M784.8,305 L856.3,318.2 L856.5,320.6 L785,307.6 Z" fill="#2f3c47"/>
<path d="M792.6,320.4 L856.8,331.2 L856.9,332.6 L792.6,322 Z" fill="#3c4a56"/>
<path d="M853,326.4 L856.6,327 V328.4 L853,327.8 Z" fill="#3b8de0"/>
<path d="M794.2,326.6 L802.2,327.8 L802.2,333.6 L794.2,332.8 Z" fill="#e53935"/>
<path d="M834.3,332 L841.3,333.2 L841.3,338 L834.3,337 Z" fill="#f5a623"/>
<path d="M845.8,335.8 L851,336.6 L851,339.6 L845.8,338.8 Z" fill="#f5a623"/>
<path d="M794.6,355 L802.6,355.4 L802.6,357 L794.6,356.8 Z" fill="#e55"/>
<path d="M836,356.8 L841.6,357 V358.6 L836,358.4 Z" fill="#e55"/><path d="M847.6,357.4 L853,357.6 V359 L847.6,358.8 Z" fill="#e55"/>
<path d="M796,349 L800,349 L802,338 L804,350 L812,349 L816,343 L820,349 L832,347 L840,347.6 L852,347" fill="none" stroke="#d9b9a0" stroke-width="0.7"/>
<path d="M795.6,336 V352 H855" fill="none" stroke="#ccc" stroke-width="0.5"/>
<path d="M754.66,384.73 A9.6,6.7 0 0 1 747.52,381.25" fill="none" stroke="#e2c22c" stroke-width="5.8"/>
<path d="M747.69,381.45 A9.6,6.7 0 0 1 747.45,375.06" fill="none" stroke="#2db52d" stroke-width="5.8"/>
<path d="M747.30,375.27 A9.6,6.7 0 0 1 764.84,375.48" fill="none" stroke="#1f8a8c" stroke-width="5.8"/>
<path d="M764.70,375.27 A9.6,6.7 0 0 1 763.35,382.41" fill="none" stroke="#5aa8e0" stroke-width="5.8"/>
<path d="M760.76,391.11 A10.9,8.9 0 0 1 767.12,397.30" fill="none" stroke="#e2c22c" stroke-width="5.8"/>
<path d="M767.03,397.00 A10.9,8.9 0 0 1 765.74,404.02" fill="none" stroke="#7a5aa0" stroke-width="5.8"/>
<path d="M765.94,403.75 A10.9,8.9 0 0 1 747.91,404.78" fill="none" stroke="#c8383f" stroke-width="5.8"/>
<path d="M748.15,405.02 A10.9,8.9 0 0 1 745.68,398.22" fill="none" stroke="#e6735a" stroke-width="5.8"/>
<path d="M745.64,398.52 A10.9,8.9 0 0 1 754.98,390.49" fill="none" stroke="#2f8fd6" stroke-width="5.8"/>
<path d="M765.5,380.4 C765.4,386 760.6,386.8 755.6,388.2 C750.6,389.6 746.2,391.6 745.7,397.6" fill="none" stroke="#2f8fd6" stroke-width="5.8"/>
<path d="M118.4,647.6 L119.6,644.6" stroke="#1d1d1d" stroke-width="3" stroke-linecap="round" fill="none"/>
<path d="M120.6,642.6 L138.6,600.4" stroke="#1d1d1d" stroke-width="9.6" stroke-linecap="round" fill="none"/>
<path d="M120.6,639.6 L121.6,637.2" stroke="#f26a1f" stroke-width="9.8" stroke-linecap="butt" fill="none"/>
<path d="M128.4,611 L133.4,599.4" stroke="#f26a1f" stroke-width="3.6" stroke-linecap="round" fill="none"/>
<path d="M138.4,601 L140.4,596.4" stroke="#f26a1f" stroke-width="10" stroke-linecap="butt" fill="none"/>
<path d="M141,595.4 L149.4,578.6" stroke="#2e2e2e" stroke-width="5.6" stroke-linecap="butt" fill="none"/>
<path d="M145.6,586.4 L148.6,580.2" stroke="#b9b9b9" stroke-width="5.2" stroke-linecap="butt" fill="none"/>
<path d="M149.6,578.2 L153.2,568.2" stroke="#1d1d1d" stroke-width="4.4" stroke-linecap="round" fill="none"/>
<path d="M138.2,570.8 L144.6,585" stroke="#8e8e8e" stroke-width="0.8" stroke-linecap="butt" fill="none"/>
<path d="M178.2,554.4 L177.6,555.8" stroke="#c4c4c4" stroke-width="9.6" stroke-linecap="round" fill="none"/>
<path d="M177.2,558 L166.6,582.4" stroke="#1d1d1d" stroke-width="11.4" stroke-linecap="butt" fill="none"/>
<path d="M161.4,592.8 L146,623.4" stroke="#1d1d1d" stroke-width="11.6" stroke-linecap="round" fill="none"/>
<path d="M146,622 L135.4,645" stroke="#1d1d1d" stroke-width="8.4" stroke-linecap="round" fill="none"/>
<path d="M166.8,582 L161.4,593.8" stroke="#f26a1f" stroke-width="12.4" stroke-linecap="butt" fill="none"/>
<path d="M129,648.4 L135.6,643.4 L141.6,654.6 L136.6,660.4 L131.4,660 L127.4,652.6 Z" fill="#1d1d1d"/>
<rect x="137.8" y="658.6" width="2.2" height="1.8" fill="#b5b5b5"/>
<path d="M155.4,644.6 L156.2,642.8" stroke="#1d1d1d" stroke-width="2.8" stroke-linecap="round" fill="none"/>
<path d="M158.6,638 L174.4,603" stroke="#1d1d1d" stroke-width="10.2" stroke-linecap="round" fill="none"/>
<path d="M159.4,636.6 L160.4,634.4" stroke="#f26a1f" stroke-width="10.4" stroke-linecap="butt" fill="none"/>
<path d="M173.4,603.4 L184.6,582" stroke="#f26a1f" stroke-width="11" stroke-linecap="round" fill="none"/>
<path d="M167.6,606.6 L171.6,598.8" stroke="#f26a1f" stroke-width="1.8" stroke-linecap="butt" fill="none"/>
<path d="M185.2,579.8 L186,578.2" stroke="#3fae49" stroke-width="8" stroke-linecap="butt" fill="none"/>
<path d="M186,576.6 L189,569" stroke="#c9c9c9" stroke-width="6.2" stroke-linecap="butt" fill="none"/>
<path d="M189.6,567.8 L193,559.4" stroke="#1d1d1d" stroke-width="5.4" stroke-linecap="butt" fill="none"/>
<path d="M193.6,559 L198.6,551" stroke="#1d1d1d" stroke-width="2.8" stroke-linecap="butt" fill="none"/>
<path d="M166.6,654 L167.6,651.6" stroke="#1d1d1d" stroke-width="3" stroke-linecap="round" fill="none"/>
<path d="M169.4,648 L194.6,591.2" stroke="#1d1d1d" stroke-width="10.2" stroke-linecap="butt" fill="none"/>
<path d="M169.4,648 L168.8,649.4" stroke="#1d1d1d" stroke-width="8" stroke-linecap="round" fill="none"/>
<path d="M170,646.8 L170.6,645.4" stroke="#d8d8d8" stroke-width="10.2" stroke-linecap="butt" fill="none"/>
<path d="M185.8,610.6 L188.8,603.8" stroke="#f26a1f" stroke-width="10.6" stroke-linecap="butt" fill="none"/>
<path d="M194.6,591.2 L195.6,588.8" stroke="#2a2a2a" stroke-width="8.6" stroke-linecap="butt" fill="none"/>
<path d="M195.8,588.2 L196.4,586.8" stroke="#1d1d1d" stroke-width="4" stroke-linecap="butt" fill="none"/>
<path d="M173.6,641 L193,597.2" stroke="#4a4a4a" stroke-width="1.2" stroke-linecap="butt" fill="none"/>
<path d="M298.6,552.6 H308 Q310.2,552.6 310.2,555 L311.6,610 L310.4,633.4 H313 V650 H293.6 V636 Q293.6,634 296,633.6 L305,632.4 L304.2,610 L304.9,557 H298.6 Z" fill="#808080"/>
<path d="M320.6,599.2 L322.6,592.2 L334.2,590 L354.3,593.4 L367.4,591.4 L369.4,597.6 V644 L355.8,650 L321,639.4 Z" fill="#808080" stroke="#808080" stroke-width="1" stroke-linejoin="round"/>
<path d="M354.6,567.4 V594" stroke="#808080" stroke-width="2"/><path d="M365.6,565 V593" stroke="#808080" stroke-width="2.2"/>
<rect x="440.2" y="573.3" width="26.7" height="70.8" fill="#141414"/>
<rect x="440.2" y="573.3" width="26.7" height="3" fill="#2a2a2a"/>
<rect x="441" y="576.3" width="25" height="35.4" fill="#222"/>
<rect x="461.6" y="580" width="1.6" height="3.4" fill="#aaa"/>
<rect x="460.6" y="589" width="2.6" height="5.4" fill="#111"/>
<rect x="441.6" y="595.4" width="1.4" height="2" fill="#888"/><rect x="441.6" y="599.6" width="1.4" height="2" fill="#888"/>
<rect x="463.8" y="634.6" width="2.4" height="5.4" fill="#e2231a"/>
<rect x="473.2" y="573.3" width="91.8" height="55.5" fill="#1b1b1b"/>
<rect x="474.2" y="574.3" width="89.8" height="50.9" fill="#4a4a4a"/>
<rect x="516.3" y="628.8" width="5.6" height="12.2" fill="#161616"/>
<path d="M501.4,642.7 Q519.1,637.19 536.8,642.7 Q519.1,646.69 501.4,642.7 Z" fill="#1e1e1e"/>
<rect x="474.2" y="574.3" width="89.8" height="6" fill="#232323"/>
<rect x="474.2" y="580.2" width="89.8" height="0.9" fill="#d8602a"/>
<rect x="477.4" y="575.6" width="2" height="3.2" fill="#6d7f8f"/>
<rect x="482.3" y="575.6" width="2" height="3.2" fill="#6d7f8f"/>
<rect x="487.2" y="575.6" width="2" height="3.2" fill="#6d7f8f"/>
<rect x="492.1" y="575.6" width="2" height="3.2" fill="#6d7f8f"/>
<rect x="497" y="575.6" width="2" height="3.2" fill="#6d7f8f"/>
<rect x="501.9" y="575.6" width="2" height="3.2" fill="#6d7f8f"/>
<rect x="506.8" y="575.6" width="2" height="3.2" fill="#6d7f8f"/>
<rect x="511.7" y="575.6" width="2" height="3.2" fill="#6d7f8f"/>
<rect x="516.6" y="575.6" width="2" height="3.2" fill="#6d7f8f"/>
<rect x="521.5" y="575.6" width="2" height="3.2" fill="#6d7f8f"/>
<rect x="526.4" y="575.6" width="2" height="3.2" fill="#6d7f8f"/>
<rect x="531.3" y="575.6" width="2" height="3.2" fill="#6d7f8f"/>
<rect x="539" y="576" width="13" height="1.8" fill="#c9c9c9"/>
<rect x="559.6" y="575.2" width="2.6" height="3.6" fill="#e8733f"/>
<rect x="474.2" y="585.2" width="52.4" height="10.6" fill="#333"/>
<path d="M477.6,588.4 L481.6,590.6 L477.6,592.8 Z" fill="#eee"/>
<rect x="486.4" y="588" width="4.4" height="5.4" fill="#d9b36a"/>
<rect x="494.6" y="588" width="4.4" height="5.4" fill="#d9b36a"/>
<rect x="503" y="588" width="4.4" height="5.4" fill="#d9b36a"/>
<rect x="510.8" y="588" width="4.4" height="5.4" fill="#f0642c"/>
<rect x="519.6" y="588.6" width="4.4" height="4" fill="#e6e6e6"/>
<path d="M481,590.6 H520" stroke="#ddd" stroke-width="0.6"/>
<path d="M481,598 V614 H515" fill="none" stroke="#8a8a8a" stroke-width="0.6"/>
<rect x="474.8" y="597" width="4" height="1.8" fill="#ddd"/><rect x="474.8" y="612.6" width="4" height="1.8" fill="#ddd"/>
<rect x="482.6" y="599.6" width="3.4" height="1.6" fill="#3a8ee6"/>
<path d="M507.7,614.1 L513.6,600 L515.5,614.1 Z" fill="#2fbf4f"/>
<rect x="520.6" y="600.6" width="3.6" height="7.6" rx="1" fill="#e4e4e4"/>
<rect x="519.6" y="610.6" width="6" height="3.6" fill="#666"/>
<rect x="504.4" y="616.8" width="3.6" height="2" fill="#ddd"/><rect x="515.6" y="616.8" width="3.6" height="2" fill="#ddd"/>
<rect x="483.4" y="621.2" width="4" height="1.6" fill="#ddd"/><rect x="504.6" y="621.2" width="4" height="1.6" fill="#ddd"/>
<rect x="528" y="582.2" width="35" height="1.6" fill="#3d3d3d"/><rect x="546" y="582" width="5.6" height="1.8" fill="#2e7d32"/><rect x="554" y="582" width="7" height="1.8" fill="#2e7d32"/>
<rect x="548" y="586" width="5.4" height="1.2" fill="#e8733f"/>
<rect x="535.2" y="589" width="8.6" height="1.7" rx="0.6" fill="#e6e6e6" opacity="0.85"/>
<rect x="535.2" y="592.5" width="8.6" height="1.7" rx="0.6" fill="#e6e6e6" opacity="0.85"/>
<rect x="535.2" y="596.1" width="8.6" height="1.7" rx="0.6" fill="#e6e6e6" opacity="0.85"/>
<rect x="535.2" y="599.2" width="8.6" height="1.7" rx="0.6" fill="#e6e6e6" opacity="0.85"/>
<rect x="535.2" y="602.4" width="8.6" height="1.7" rx="0.6" fill="#e6e6e6" opacity="0.85"/>
<rect x="535.2" y="605.8" width="8.6" height="1.7" rx="0.6" fill="#e6e6e6" opacity="0.85"/>
<rect x="535.2" y="609.1" width="8.6" height="1.7" rx="0.6" fill="#e6e6e6" opacity="0.85"/>
<rect x="553.2" y="592.5" width="8.6" height="1.7" rx="0.6" fill="#f2f2f2"/>
<rect x="553.2" y="596.1" width="8.6" height="1.7" rx="0.6" fill="#f2f2f2"/>
<rect x="553.2" y="599.2" width="8.6" height="1.7" rx="0.6" fill="#f2f2f2"/>
<rect x="553.2" y="602.4" width="8.6" height="1.7" rx="0.6" fill="#f2f2f2"/>
<rect x="553.2" y="605.8" width="8.6" height="1.7" rx="0.6" fill="#f2f2f2"/>
<rect x="527" y="585" width="0.6" height="40" fill="#3a3a3a"/>
<path d="M631.2,563.6 L633.4,562.6 L638.4,562.6 Q639.6,563.4 639.6,565.6 L640,574.6 H634.4 L634.8,567.4 L631.4,566.4 Z" fill="#2a2a2a"/>
<path d="M633.7,574.4 H640.2 L642.2,583.7 V602.3 L641.4,606.9 L642.2,631.7 H635.5 V606.9 L631.4,602.3 V583.7 Z" fill="#f05a1e"/>
<rect x="635" y="586" width="3.4" height="11" rx="1" fill="#7a2c0c"/>
<path d="M638.3,610 H641.4 L641.8,628.6 H638.5 Z" fill="#222"/>
<path d="M628.3,630.9 L636.8,627 L644.2,637.9 L639.9,641.7 Z" fill="#2a2a2a"/>
<path d="M618.2,614.6 L628.6,615.6 L631,636.4 H620.5 Z" fill="#f05a1e"/>
<path d="M611.3,604.6 L633.7,603.5 L637.1,606.1 L636.8,615.4 L634.5,616.5 L611.3,613.9 Z" fill="#f05a1e" stroke="#b8400f" stroke-width="0.5"/>
<path d="M602.4,606.6 L611.3,606 V611.4 L602.4,611 Z" fill="#333"/>
<path d="M619,607.5 L631.4,607.9 L631.2,612.5 L619,612 Z" fill="#4a2a1c"/>
<path d="M615.6,615 L618.2,615.2 L619.6,621 L617.2,621 Z" fill="#2a2a2a"/>
<path d="M610,636.3 H631.4 L631.2,641 H610.2 Z" fill="#f05a1e"/>
<path d="M610.2,640.6 H631.2 L631,645 L612,645.8 Q610.4,645.8 610.4,644.6 Z" fill="#333"/>
<path d="M683,586.6 L691.8,590 L691.8,642 L683,646.6 Z" fill="#6a6d72"/>
<path d="M641.4,578.6 L644.2,577.6 L657.4,581.8 L657.6,586 L655,585.4 L654.8,583.6 L641.6,580.4 Z" fill="#2b2b2b"/>
<path d="M666.4,576.6 L669,575.6 L682.4,580.2 L682.4,585.6 L680,585 L680,582.2 L666.6,578.6 Z" fill="#2b2b2b"/>
<rect x="646.2" y="585" width="37" height="63" rx="3" fill="#f05a1e"/>
<rect x="648.2" y="587.2" width="33" height="52" fill="#444"/>
<rect x="648.2" y="639.2" width="33" height="6" fill="#3a3f4a"/>
<rect x="653.6" y="593" width="5.4" height="1.9" fill="#f05a1e"/>
<rect x="652" y="596.4" width="4" height="2.2" fill="#e8e8e8"/><rect x="662" y="596" width="6.4" height="2.6" fill="#dcdcdc"/>
<rect x="667.4" y="588.6" width="1.2" height="1" fill="#4caf50"/><rect x="674" y="588.6" width="1.2" height="1" fill="#4caf50"/>
<rect x="674.6" y="596.6" width="4.4" height="1.6" fill="#2e7d32"/>
<rect x="648.6" y="603" width="19" height="16.4" fill="#23292b"/>
<circle cx="657" cy="611.4" r="5.6" fill="#59626a"/><circle cx="657" cy="611.4" r="3" fill="#1f2426"/><circle cx="657" cy="611.4" r="1.2" fill="#8b979f"/>
<rect x="669.6" y="605.8" width="9.4" height="4.2" fill="#46b04a"/>
<rect x="669.6" y="610.5" width="9.4" height="2" fill="#2f7fe0"/>
<rect x="670" y="613.6" width="8.8" height="1.8" fill="#e2e2e2"/><rect x="670" y="616.4" width="8.8" height="1.8" fill="#e2e2e2"/>
<rect x="667.8" y="621.2" width="11.6" height="7.4" fill="#3bd23d"/>
<text x="673.6" y="627.6" font-size="6.6" font-weight="700" fill="#0a2a0a" text-anchor="middle">OK</text>
<rect x="671" y="630.4" width="6" height="1.4" fill="#cfcfcf"/><rect x="670.4" y="633" width="7.4" height="1.4" fill="#777"/>
<path d="M654.6,621 V638 M661.6,621 V638" stroke="#5a5a5a" stroke-width="0.5"/>
<rect x="659.2" y="644.8" width="8.2" height="2.3" fill="#f2f2f2"/>
<text x="663.3" y="646.8" font-size="2.2" fill="#333" text-anchor="middle">CK</text>
<rect x="695" y="576.6" width="1.8" height="3" fill="#222"/>
<path d="M693,580 Q696,577.6 699,580 L700.4,590 L700,617 H692 L691.8,590 Z" fill="#1f1f1f"/>
<path d="M692.6,582 Q696,579.6 699.4,582" fill="none" stroke="#f05a1e" stroke-width="1"/>
<rect x="692" y="617" width="8" height="3.9" fill="#f05a1e"/>
<rect x="695" y="598" width="1.6" height="9" fill="#7a2c0c"/>
<path d="M692.6,621 H699.4 L698.6,640 H693.6 Z" fill="#2a2a2a"/>
<rect x="694" y="630" width="4" height="5" fill="#bbb"/>
<rect x="694.4" y="640" width="3.4" height="5.6" fill="#333"/>
<path d="M700.4,600 Q702.6,606 700.6,614" fill="none" stroke="#f05a1e" stroke-width="1"/>
<path d="M701.8,555.4 L706,554.2 L712,555 Q713.6,556 713.6,559 L713.2,572 L714.6,590 L714.5,613 H704.6 L705,590 L706.4,572 L706.2,559.6 L701.8,558.6 Z" fill="#1a1a1a"/>
<rect x="704.6" y="613" width="9.9" height="6.4" fill="#f05a1e"/>
<rect x="704.6" y="615.4" width="9.9" height="1.2" fill="#fff" opacity="0.7"/>
<path d="M704.8,619.4 H714.4 L714,642.6 H705.6 Z" fill="#1a1a1a"/>
<rect x="706" y="642.6" width="7.6" height="6.2" fill="#bdbdbd"/>
<rect x="706" y="644.6" width="7.6" height="0.8" fill="#888"/><rect x="706" y="646.6" width="7.6" height="0.8" fill="#888"/>
<rect x="776.2" y="568.2" width="105.1" height="63.6" fill="#1b1b1b"/>
<rect x="777.2" y="569.2" width="103.1" height="58.2" fill="#fff"/>
<rect x="825.5" y="631.8" width="6.2" height="15.2" fill="#161616"/>
<path d="M807.8,647.648 Q828.6,641.477 849.4,647.648 Q828.6,652.117 807.8,647.648 Z" fill="#1e1e1e"/>
<rect x="777.2" y="569.2" width="15.8" height="58.2" fill="#575757"/>
<rect x="777.2" y="569.2" width="15.8" height="5.2" fill="#eb6231"/>
<rect x="783" y="571.4" width="5" height="0.9" fill="#fff" opacity="0.8"/>
<rect x="793" y="574.6" width="87.3" height="3.5" fill="#a9a9a9"/>
<rect x="871.8" y="574.6" width="8.2" height="3.5" fill="#ef6a3a"/>
<rect x="869" y="571.6" width="5" height="1" fill="#f0b429"/><rect x="876" y="571.2" width="1.6" height="1.6" fill="#444"/>
<rect x="797" y="571.6" width="8" height="0.9" fill="#999"/>
<rect x="778.4" y="576.4" width="1.4" height="1.8" fill="#ccc"/><rect x="781.4" y="576.8" width="2.6" height="1" fill="#9a9a9a"/>
<rect x="778.4" y="580.8" width="1.4" height="1.8" fill="#ccc"/><rect x="781.4" y="581.2" width="2.6" height="1" fill="#9a9a9a"/>
<rect x="778.4" y="585.2" width="1.4" height="1.8" fill="#ccc"/><rect x="781.4" y="585.6" width="2.6" height="1" fill="#9a9a9a"/>
<rect x="778.4" y="590" width="1.4" height="1.8" fill="#ccc"/><rect x="781.4" y="590.4" width="2.6" height="1" fill="#9a9a9a"/>
<rect x="778.4" y="594.4" width="1.4" height="1.8" fill="#29b6f6"/><rect x="781.4" y="594.8" width="4" height="1" fill="#29b6f6"/>
<rect x="793.6" y="579" width="62" height="43" fill="#fff"/>
<rect x="795.6" y="581" width="7" height="0.8" fill="#777"/><rect x="805" y="581" width="3" height="0.8" fill="#ef6a3a"/>
<rect x="802" y="583.1" width="45.3" height="37" fill="#2c8f62"/>
<path d="M804.4,585.6 H826 V583.6 H843.6 V600 H845.6 V616 H838 V618.6 H806 V612 H803.6 Z" fill="#cfd2d1"/>
<rect x="822.6" y="601" width="6.4" height="7.4" fill="#8fa39a"/><rect x="824.6" y="584" width="1.6" height="12" fill="#39443f"/>
<rect x="809" y="596" width="10" height="12" fill="#d9dcdb" stroke="#b5bab8" stroke-width="0.4"/>
<rect x="815" y="608" width="9" height="3" fill="#3e8f6b"/><rect x="831" y="596" width="8" height="2" fill="#3e8f6b"/><rect x="806" y="588" width="6" height="1.6" fill="#4b5a54"/><rect x="830" y="586.6" width="7" height="1.4" fill="#4b5a54"/>
<path d="M832,587 L847,598" stroke="#d64545" stroke-width="1.4"/><path d="M816,620 L822,618.4" stroke="#d64545" stroke-width="1.2"/>
<circle cx="808" cy="587.4" r="1.7" fill="#e9f6ff" stroke="#4aa8e8" stroke-width="0.6"/>
<circle cx="821.6" cy="587.4" r="1.7" fill="#e9f6ff" stroke="#4aa8e8" stroke-width="0.6"/>
<circle cx="840.6" cy="588" r="1.7" fill="#e9f6ff" stroke="#4aa8e8" stroke-width="0.6"/>
<circle cx="829.2" cy="600.4" r="1.7" fill="#e9f6ff" stroke="#4aa8e8" stroke-width="0.6"/>
<circle cx="822.8" cy="615" r="1.7" fill="#e9f6ff" stroke="#4aa8e8" stroke-width="0.6"/>
<circle cx="841" cy="614.4" r="1.7" fill="#e9f6ff" stroke="#4aa8e8" stroke-width="0.6"/>
<rect x="856.8" y="579" width="23.2" height="3.4" fill="#bdbdbd"/>
<rect x="859.4" y="584.4" width="1.6" height="2.2" fill="#888"/><rect x="862" y="584.4" width="2.4" height="2.2" fill="#57b5ee"/><rect x="865.6" y="585" width="4" height="0.9" fill="#8fd0f5"/><rect x="870.6" y="585" width="3.6" height="0.9" fill="#8fd0f5"/><rect x="875" y="585" width="2.6" height="0.9" fill="#8fd0f5"/>
<rect x="859.4" y="588.4" width="1.6" height="2.2" fill="#888"/><rect x="862" y="588.4" width="2.4" height="2.2" fill="#57b5ee"/><rect x="865.6" y="589" width="4" height="0.9" fill="#8fd0f5"/><rect x="870.6" y="589" width="3.6" height="0.9" fill="#8fd0f5"/><rect x="875" y="589" width="2.6" height="0.9" fill="#8fd0f5"/>
<rect x="859.4" y="592.4" width="1.6" height="2.2" fill="#888"/><rect x="862" y="592.4" width="2.4" height="2.2" fill="#57b5ee"/><rect x="865.6" y="593" width="4" height="0.9" fill="#8fd0f5"/><rect x="870.6" y="593" width="3.6" height="0.9" fill="#8fd0f5"/><rect x="875" y="593" width="2.6" height="0.9" fill="#8fd0f5"/>
<rect x="859.4" y="596.4" width="1.6" height="2.2" fill="#888"/><rect x="862" y="596.4" width="2.4" height="2.2" fill="#57b5ee"/><rect x="865.6" y="597" width="4" height="0.9" fill="#8fd0f5"/><rect x="870.6" y="597" width="3.6" height="0.9" fill="#8fd0f5"/><rect x="875" y="597" width="2.6" height="0.9" fill="#8fd0f5"/>
<rect x="859.4" y="600.4" width="1.6" height="2.2" fill="#888"/><rect x="862" y="600.4" width="2.4" height="2.2" fill="#57b5ee"/><rect x="865.6" y="601" width="4" height="0.9" fill="#8fd0f5"/><rect x="870.6" y="601" width="3.6" height="0.9" fill="#8fd0f5"/><rect x="875" y="601" width="2.6" height="0.9" fill="#8fd0f5"/>
<rect x="859.4" y="604.4" width="1.6" height="2.2" fill="#888"/><rect x="862" y="604.4" width="2.4" height="2.2" fill="#57b5ee"/><rect x="865.6" y="605" width="4" height="0.9" fill="#8fd0f5"/><rect x="870.6" y="605" width="3.6" height="0.9" fill="#8fd0f5"/><rect x="875" y="605" width="2.6" height="0.9" fill="#8fd0f5"/>
<rect x="856.6" y="609" width="23.6" height="0.7" fill="#ccc"/>
<rect x="857.6" y="612" width="7" height="5.6" fill="#c6c6c6"/>
<rect x="871" y="612" width="8" height="0.9" fill="#999"/><rect x="873.6" y="614.6" width="4" height="0.9" fill="#bbb"/>
<rect x="793.6" y="622.4" width="62" height="5" fill="#eef3f8"/>
<rect x="795" y="623" width="6" height="0.9" fill="#29b6f6"/><rect x="802" y="623" width="8" height="0.9" fill="#ef6a6a"/><rect x="804" y="625.2" width="5" height="0.9" fill="#ef6a6a"/>
<rect x="844" y="626.8" width="8" height="0.9" fill="#e8733f"/>
<g fill="#000" stroke="#000" stroke-width="0.35" opacity="0.06" font-size="16.5" style="font-family:&quot;Liberation Sans&quot;,sans-serif">
<text transform="translate(-285.1,304.0) rotate(-30)" x="0" y="0">192.168.20.80<tspan dx="9.6">shuo.zhou</tspan><tspan dx="9.6">2026-01-15</tspan></text>
<text transform="translate(-186.6,474.6) rotate(-30)" x="0" y="0">192.168.20.80<tspan dx="9.6">shuo.zhou</tspan><tspan dx="9.6">2026-01-15</tspan></text>
<text transform="translate(-88.1,645.2) rotate(-30)" x="0" y="0">192.168.20.80<tspan dx="9.6">shuo.zhou</tspan><tspan dx="9.6">2026-01-15</tspan></text>
<text transform="translate(10.4,815.8) rotate(-30)" x="0" y="0">192.168.20.80<tspan dx="9.6">shuo.zhou</tspan><tspan dx="9.6">2026-01-15</tspan></text>
<text transform="translate(66.5,101.0) rotate(-30)" x="0" y="0">192.168.20.80<tspan dx="9.6">shuo.zhou</tspan><tspan dx="9.6">2026-01-15</tspan></text>
<text transform="translate(165.0,271.6) rotate(-30)" x="0" y="0">192.168.20.80<tspan dx="9.6">shuo.zhou</tspan><tspan dx="9.6">2026-01-15</tspan></text>
<text transform="translate(263.5,442.2) rotate(-30)" x="0" y="0">192.168.20.80<tspan dx="9.6">shuo.zhou</tspan><tspan dx="9.6">2026-01-15</tspan></text>
<text transform="translate(362.0,612.8) rotate(-30)" x="0" y="0">192.168.20.80<tspan dx="9.6">shuo.zhou</tspan><tspan dx="9.6">2026-01-15</tspan></text>
<text transform="translate(460.5,783.4) rotate(-30)" x="0" y="0">192.168.20.80<tspan dx="9.6">shuo.zhou</tspan><tspan dx="9.6">2026-01-15</tspan></text>
<text transform="translate(516.6,68.6) rotate(-30)" x="0" y="0">192.168.20.80<tspan dx="9.6">shuo.zhou</tspan><tspan dx="9.6">2026-01-15</tspan></text>
<text transform="translate(615.1,239.2) rotate(-30)" x="0" y="0">192.168.20.80<tspan dx="9.6">shuo.zhou</tspan><tspan dx="9.6">2026-01-15</tspan></text>
<text transform="translate(713.6,409.8) rotate(-30)" x="0" y="0">192.168.20.80<tspan dx="9.6">shuo.zhou</tspan><tspan dx="9.6">2026-01-15</tspan></text>
<text transform="translate(812.1,580.4) rotate(-30)" x="0" y="0">192.168.20.80<tspan dx="9.6">shuo.zhou</tspan><tspan dx="9.6">2026-01-15</tspan></text>
<text transform="translate(910.6,751.0) rotate(-30)" x="0" y="0">192.168.20.80<tspan dx="9.6">shuo.zhou</tspan><tspan dx="9.6">2026-01-15</tspan></text>
<text transform="translate(966.7,36.2) rotate(-30)" x="0" y="0">192.168.20.80<tspan dx="9.6">shuo.zhou</tspan><tspan dx="9.6">2026-01-15</tspan></text>
</g>
</svg></body></html>
